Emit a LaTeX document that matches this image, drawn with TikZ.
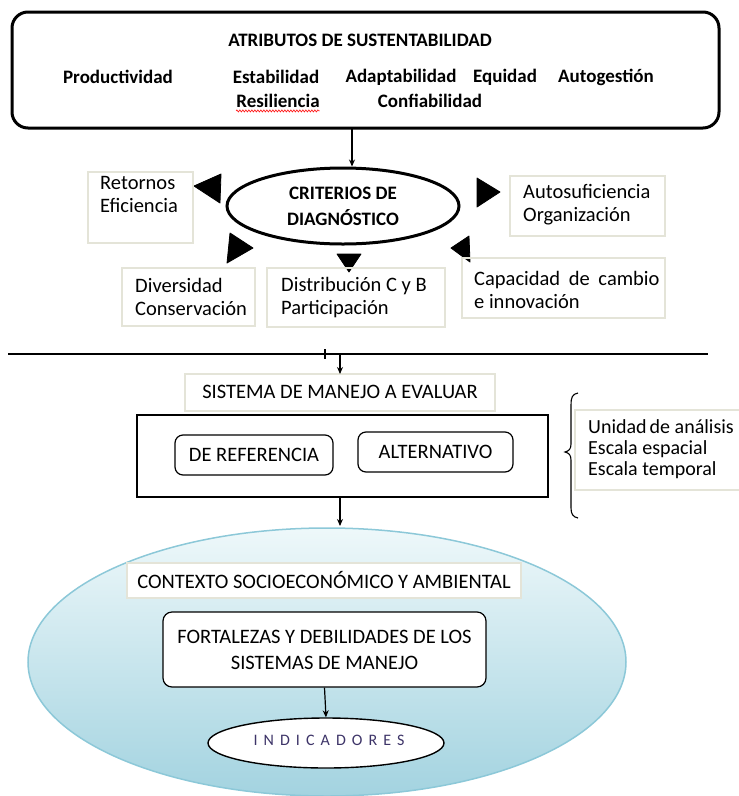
\documentclass[tikz,border=0pt]{standalone}
\usepackage{fontspec}
\setmainfont{Carlito}
\usetikzlibrary{arrows.meta,shapes.geometric,decorations.pathmorphing}
\definecolor{faint}{HTML}{E4E4D8}
\definecolor{skyedge}{HTML}{8CC8D8}
\definecolor{skytop}{HTML}{EEF8FA}
\definecolor{skybot}{HTML}{A3D3E0}
\definecolor{indig}{HTML}{3D3468}
\begin{document}
\begin{tikzpicture}[x=1pt,y=-1pt,
  txt/.style={font=\fontsize{20.5}{23}\selectfont, inner sep=0pt},
  btxt/.style={font=\fontsize{19}{23}\selectfont\bfseries, inner sep=0pt},
  ltxt/.style={txt, anchor=west, align=left},
  faintbox/.style={draw=faint, line width=1.2pt},
  conn/.style={line width=1.2pt, -{Stealth[length=7pt,width=6pt]}},
  tri/.style={fill=black, draw=black, line join=round, line width=0.8pt}]
\useasboundingbox (0,0) rectangle (739,796);

% ---------- top box ----------
\draw[line width=3pt, rounded corners=16pt] (12,12) rectangle (719,128);
\coordinate (topbot) at (352,128);
\node[btxt] (title) at (360,40) {ATRIBUTOS DE SUSTENTABILIDAD};
\node[btxt] (prod) at (118,77) {Productividad};
\node[btxt] (esta) at (276,77) {Estabilidad};
\node[btxt] (adap) at (401,77) {Adaptabilidad};
\node[btxt] (equi) at (505,77) {Equidad};
\node[btxt] (auto) at (606,77) {Autogestión};
\node[btxt] (resi) at (278,101) {Resiliencia};
\node[btxt] (conf) at (430,101) {Confiabilidad};
\draw[red, line width=0.6pt, decorate, decoration={zigzag, amplitude=1pt, segment length=3pt}]
  ([yshift=-3pt]resi.south west) -- ([yshift=-3pt]resi.south east);

% ---------- criterios ----------
\node[draw, ellipse, line width=3pt, minimum width=232pt, minimum height=76pt] (crit) at (343,206) {};
\node[btxt, align=center, font=\fontsize{19}{26}\selectfont\bfseries] (crittxt) at (343,206) {CRITERIOS DE\\DIAGNÓSTICO};
\draw[conn] (topbot) -- (crit.north -| topbot);

\draw[tri] (194,186) -- (221,174) -- (220,203) -- cycle;
\draw[tri] (230,233) -- (253,248) -- (227,263) -- cycle;
\draw[tri] (477,178) -- (500,192) -- (477,207) -- cycle;
\draw[tri] (451,248) -- (469,236) -- (470,262) -- cycle;
\draw[tri] (337,254) -- (361,254) -- (349,272) -- cycle;

\draw[faintbox] (88,172) rectangle (193,243);
\node[ltxt] (reto) at (100,194) {Retornos\\Eficiencia};
\draw[faintbox] (510,176) rectangle (665,236);
\node[ltxt] (autos) at (523,205) {Autosuficiencia\\Organización};
\draw[faintbox] (122,268) rectangle (255,326);
\node[ltxt] (dive) at (135,297) {Diversidad\\Conservación};
\draw[faintbox] (267,268) rectangle (445,327);
\node[ltxt] (dist) at (281,298) {Distribución C y B\\Participación};
\draw[faintbox] (462,258) rectangle (665,318);
\node[ltxt] (capa) at (474,290) {Capacidad\hspace{4pt} de\hspace{4pt} cambio\\e innovación};

% ---------- separator ----------
\draw[line width=1.2pt] (8,354) -- (708,354);
\draw[line width=1.2pt] (325,349) -- (325,359);
\coordinate (sepout) at (340,354);

% ---------- sistema ----------
\draw[faintbox] (185,374) rectangle (495,411);
\node[txt] (sist) at (340,392) {SISTEMA DE MANEJO A EVALUAR};
\draw[conn] (sepout) -- (340,374);
\node[draw, line width=1.2pt, minimum width=411pt, minimum height=82pt, inner sep=0pt] (frame) at (342.5,456) {};
\node[draw, rounded corners=8pt, line width=1.2pt, minimum width=158pt, minimum height=40pt, txt] (ref) at (254,455) {DE REFERENCIA};
\node[draw, rounded corners=8pt, line width=1.2pt, minimum width=155pt, minimum height=40pt, txt] (alt) at (435.5,452) {ALTERNATIVO};

\draw[line width=1.1pt] (578,393) .. controls (572,394) and (571,398) .. (571,405) -- (571,444)
  .. controls (571,449) and (569,451) .. (565,452) .. controls (569,453) and (571,455) .. (571,460)
  -- (571,508) .. controls (571,514) and (573,517) .. (578,518);
\draw[faintbox] (575,410) rectangle (745,490);
\node[ltxt, font=\fontsize{20}{21}\selectfont] (unid) at (588,449) {Unidad\hspace{-1.5pt} de análisis\\Escala espacial\\Escala temporal};

% ---------- contexto ----------
\path[top color=skytop, bottom color=skybot, draw=skyedge, line width=1.5pt] (327,662) ellipse (299 and 134);
\draw[conn] (frame.south -| sist) -- (340,526);
\node[fill=white, draw=faint, line width=1.2pt, minimum width=394pt, minimum height=35pt, txt] (ctx) at (324,580.5) {CONTEXTO SOCIOECONÓMICO Y AMBIENTAL};
\node[fill=white, draw, rounded corners=9pt, line width=1.2pt, minimum width=323pt, minimum height=75pt, txt, align=center, font=\fontsize{20.5}{26}\selectfont] (fort) at (324.5,649.5) {FORTALEZAS Y DEBILIDADES DE LOS\\SISTEMAS DE MANEJO};
\node[fill=white, draw, ellipse, line width=1.4pt, minimum width=236pt, minimum height=50pt, inner sep=0pt] (ind) at (326,743) {};
\node[text=indig, font=\fontsize{16}{18}\selectfont\addfontfeature{LetterSpace=38}, inner sep=0pt] (indtxt) at (329,740) {INDICADORES};
\draw[conn] (fort.south) -- (ind.north);
\end{tikzpicture}
\end{document}
